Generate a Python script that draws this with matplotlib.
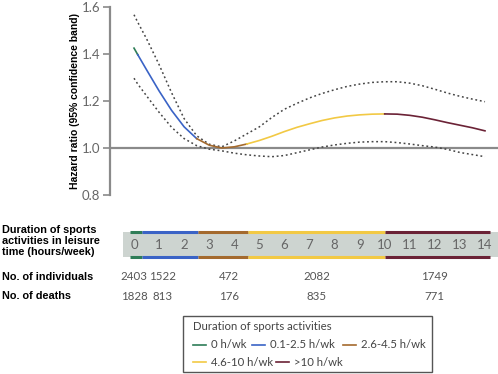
import numpy as np
import matplotlib
matplotlib.use('Agg')
import matplotlib.pyplot as plt
from matplotlib.patches import Rectangle

# ── Data ────────────────────────────────────────────────────────────────
hours = [0, 0.15, 0.5, 1, 1.5, 2, 2.5, 3, 3.5, 4, 4.5, 5, 5.5, 6, 6.5, 7,
         7.5, 8, 8.5, 9, 9.5, 10, 10.5, 11, 11.5, 12, 12.5, 13, 13.5, 14]
hr = [1.425, 1.397, 1.333, 1.243, 1.16, 1.09, 1.04, 1.012, 1.0, 1.005, 1.017,
      1.032, 1.05, 1.07, 1.088, 1.103, 1.117, 1.128, 1.136, 1.141, 1.144,
      1.145, 1.144, 1.139, 1.131, 1.12, 1.108, 1.097, 1.086, 1.073]
hr_upper = [1.567, 1.535, 1.465, 1.355, 1.235, 1.125, 1.052, 1.016, 1.005, 1.03,
            1.06, 1.09, 1.13, 1.165, 1.19, 1.213, 1.232, 1.248, 1.262, 1.272,
            1.279, 1.282, 1.282, 1.276, 1.265, 1.25, 1.234, 1.22, 1.208, 1.197]
hr_lower = [1.297, 1.272, 1.222, 1.152, 1.088, 1.04, 1.01, 0.995, 0.988, 0.978,
            0.971, 0.966, 0.963, 0.968, 0.98, 0.992, 1.004, 1.013, 1.02, 1.025,
            1.027, 1.027, 1.023, 1.017, 1.01, 1.004, 0.994, 0.981, 0.972, 0.963]

group_labels = ['0 h/wk', '0.1-2.5 h/wk', '2.6-4.5 h/wk', '4.6-10 h/wk', '>10 h/wk']
group_colors = ['#2e7d57', '#3a63c6', '#a46a2e', '#f2c944', '#6b2236']
curve_bounds = [0, 0.15, 2.5, 4.5, 10, 14]          # where the curve changes colour
bar_bounds   = [-0.16, 0.32, 2.55, 4.55, 10.0, 14.2]  # coloured edges of the hour strip

count_pos   = [0, 1.15, 3.8, 7.3, 12.0]
individuals = [2403, 1522, 472, 2082, 1749]
deaths      = [1828, 813, 176, 835, 771]
# ────────────────────────────────────────────────────────────────────────

W, H = 498, 374
X0_PX, PX_PER_H = 134, 25.07
XLIM = ((110 - X0_PX) / PX_PER_H, (W - X0_PX) / PX_PER_H)

NUM_FONT = ['Lato', 'DejaVu Sans']
LAB_FONT = ['Liberation Sans', 'DejaVu Sans']
GREY_TXT = '#666666'


def px_box(left, top, right, bottom):
    return [left / W, 1 - bottom / H, (right - left) / W, (bottom - top) / H]


fig = plt.figure(figsize=(W / 100, H / 100), dpi=100)

# ── Hazard ratio curve ──
ax = fig.add_axes(px_box(110, 7, W, 195))
ax.set_xlim(*XLIM)
ax.set_ylim(0.8, 1.6)
for s in ['top', 'right', 'bottom']:
    ax.spines[s].set_visible(False)
ax.spines['left'].set_color('#8a8a8a')
ax.spines['left'].set_linewidth(1.6)
ax.set_xticks([])
ax.set_yticks([0.8, 1.0, 1.2, 1.4, 1.6])
ax.set_yticklabels(['0.8', '1.0', '1.2', '1.4', '1.6'])
ax.tick_params(axis='y', length=5, width=1.2, color='#8a8a8a',
               labelcolor=GREY_TXT, labelsize=9.5, pad=2)
for lab in ax.get_yticklabels():
    lab.set_family(NUM_FONT)
ax.axhline(1.0, color='#8a8a8a', lw=1.6, zorder=1)

x = np.array(hours)
y = np.array(hr)
ax.plot(hours, hr_upper, ls=(0, (1.2, 1.8)), color='#444444', lw=1.1, zorder=2)
ax.plot(hours, hr_lower, ls=(0, (1.2, 1.8)), color='#444444', lw=1.1, zorder=2)
for i, col in enumerate(group_colors):
    m = (x >= curve_bounds[i]) & (x <= curve_bounds[i + 1])
    ax.plot(x[m], y[m], color=col, lw=1.2, zorder=3)

fig.text(75 / W, 1 - 101 / H, 'Hazard ratio (95% confidence band)', rotation=90,
         ha='center', va='center', fontsize=7.5, fontweight='bold', family=LAB_FONT)

# ── Hour strip and counts table ──
tb = fig.add_axes(px_box(110, 225, W, 305))
tb.set_xlim(*XLIM)
tb.set_ylim(80, 0)
tb.axis('off')
strip_left = (123 - X0_PX) / PX_PER_H
tb.add_patch(Rectangle((strip_left, 7), XLIM[1] - strip_left, 25,
                       facecolor='#cdd4d0', edgecolor='none', clip_on=False))
for i, col in enumerate(group_colors):
    for yy in (7, 32):
        tb.plot([bar_bounds[i], bar_bounds[i + 1]], [yy, yy], color=col, lw=2.2,
                solid_capstyle='butt', clip_on=False)
for h in range(15):
    tb.text(h, 20, str(h), ha='center', va='center', fontsize=9.5,
            color=GREY_TXT, family=NUM_FONT)
for xp, n, d in zip(count_pos, individuals, deaths):
    tb.text(xp, 52, str(n), ha='center', va='center', fontsize=8.3, color='#555555', family=NUM_FONT)
    tb.text(xp, 71, str(d), ha='center', va='center', fontsize=8.3, color='#555555', family=NUM_FONT)

row_labels = [('Duration of sports', 230), ('activities in leisure', 241),
              ('time (hours/week)', 252), ('No. of individuals', 277), ('No. of deaths', 296)]
for txt, py in row_labels:
    fig.text(2 / W, 1 - py / H, txt, ha='left', va='center', fontsize=7.8,
             fontweight='bold', family=LAB_FONT)

# ── Legend box ──
ov = fig.add_axes([0, 0, 1, 1])
ov.set_xlim(0, W)
ov.set_ylim(H, 0)
ov.axis('off')
ov.add_patch(Rectangle((183, 316), 249, 56, facecolor='white', edgecolor='#555555', lw=1))
ov.text(193, 327, 'Duration of sports activities', ha='left', va='center',
        fontsize=8.2, color='#444444', family=NUM_FONT)
legend_pos = [(193, 345), (252, 345), (343, 345), (193, 362), (276, 362)]
for (lx, ly), col, lab in zip(legend_pos, group_colors, group_labels):
    ov.plot([lx, lx + 13], [ly, ly], color=col, lw=1.2)
    ov.text(lx + 18, ly, lab, ha='left', va='center', fontsize=8.2,
            color='#444444', family=NUM_FONT)

fig.savefig('out.png', dpi=100)
